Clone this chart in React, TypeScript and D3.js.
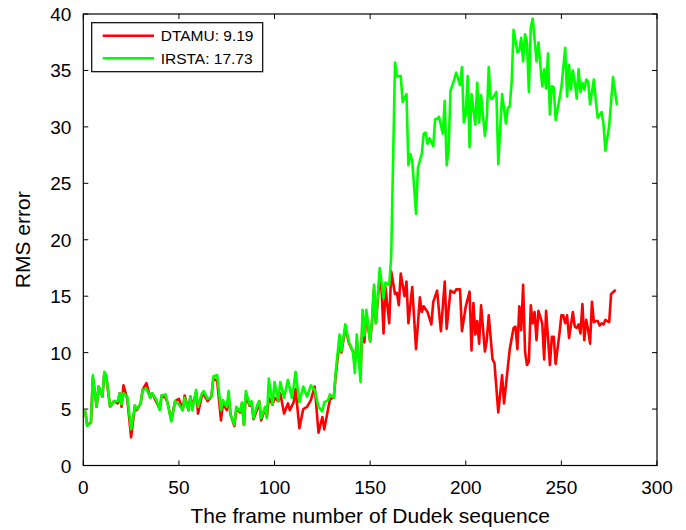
import React from 'react';
import * as d3 from 'd3';

// frame numbers and RMS error
const dtamuFrames = [1, 2, 4, 5, 7, 8, 10, 11, 12, 14, 16, 18, 19, 20, 21, 23, 25, 27, 28, 30, 31, 33, 35, 36, 38, 40, 41, 43, 44, 46, 48, 50, 52, 53, 55, 56, 57, 59, 60, 62, 63, 65, 67, 68, 70, 72, 73, 75, 76, 77, 79, 80, 82, 83, 84, 85, 87, 88, 89, 91, 92, 93, 95, 96, 97, 99, 100, 102, 103, 105, 107, 108, 110, 111, 113, 115, 117, 119, 121, 123, 125, 126, 128, 129, 131, 132, 134, 135, 137, 139, 141, 142, 143, 145, 146, 147, 148, 150, 151, 152, 153, 155, 156, 157, 158, 160, 161, 163, 164, 165, 166, 168, 169, 170, 172, 174, 176, 177, 178, 180, 182, 183, 185, 187, 189, 190, 192, 194, 195, 197, 198, 200, 202, 203, 204, 205, 206, 207, 208, 210, 211, 212, 214, 215, 217, 219, 220, 223, 225, 226, 227, 228, 229, 230, 231, 232, 233, 234, 235, 236, 237, 238, 240, 241, 242, 244, 245, 246, 247, 249, 250, 251, 252, 253, 254, 256, 257, 258, 259, 260, 261, 262, 263, 264, 265, 266, 267, 268, 269, 270, 271, 272, 273, 274, 275, 276, 278];
const dtamuRms = [4.8, 3.6, 3.8, 7.8, 5.2, 7.0, 6.1, 8.2, 7.9, 5.2, 5.7, 5.5, 6.4, 5.2, 7.1, 5.9, 2.5, 5.3, 4.9, 5.5, 6.7, 7.3, 6.0, 6.4, 5.7, 5.0, 6.2, 6.0, 5.6, 4.0, 5.7, 5.9, 4.9, 6.2, 4.9, 6.1, 5.2, 6.5, 4.6, 6.2, 6.3, 5.7, 6.1, 7.7, 7.5, 4.0, 5.5, 4.9, 6.0, 4.5, 3.5, 5.0, 4.7, 5.5, 3.6, 6.2, 5.3, 5.6, 4.1, 5.0, 5.7, 4.0, 5.0, 4.3, 6.0, 5.4, 6.0, 5.7, 6.4, 4.6, 5.5, 4.9, 5.6, 6.8, 3.3, 5.0, 5.2, 5.8, 7.0, 2.9, 4.3, 3.2, 5.0, 5.9, 6.0, 8.0, 11.0, 10.0, 12.2, 10.8, 10.1, 9.0, 11.0, 8.2, 13.0, 10.9, 13.5, 11.0, 12.8, 15.6, 12.6, 16.8, 15.5, 11.7, 15.8, 12.6, 17.2, 15.2, 15.3, 14.2, 17.0, 15.0, 16.3, 12.6, 15.8, 10.3, 14.9, 13.6, 14.1, 13.6, 12.5, 14.5, 15.5, 11.9, 16.3, 12.1, 15.5, 15.3, 15.6, 15.6, 11.9, 14.1, 15.4, 10.2, 14.4, 11.6, 12.8, 10.8, 14.2, 10.1, 11.1, 13.3, 9.4, 9.1, 4.7, 8.0, 5.5, 10.3, 12.2, 12.3, 10.3, 14.1, 12.0, 16.0, 10.1, 8.9, 9.2, 14.2, 12.6, 13.6, 11.1, 13.7, 12.6, 9.4, 13.7, 8.9, 11.4, 11.4, 9.0, 11.7, 13.3, 13.3, 12.6, 13.3, 11.3, 13.6, 12.3, 12.2, 12.5, 11.7, 14.3, 11.1, 12.9, 12.0, 10.8, 14.5, 12.7, 12.8, 12.8, 12.4, 12.6, 12.5, 12.9, 12.8, 12.7, 15.2, 15.5];

const irstaFrames = [1, 2, 4, 5, 7, 8, 10, 11, 12, 14, 16, 18, 19, 20, 21, 23, 25, 27, 28, 30, 31, 33, 35, 36, 38, 40, 41, 43, 44, 46, 48, 50, 52, 53, 55, 56, 57, 59, 60, 62, 63, 65, 67, 68, 70, 72, 73, 75, 76, 77, 79, 80, 82, 83, 84, 85, 87, 88, 89, 91, 92, 93, 95, 96, 97, 99, 100, 102, 103, 105, 107, 109, 110, 111, 113, 115, 117, 119, 121, 123, 125, 126, 128, 129, 131, 132, 134, 135, 137, 139, 141, 142, 143, 145, 146, 147, 148, 150, 151, 152, 153, 155, 156, 157, 158, 160, 161, 163, 164, 166, 167, 169, 170, 171, 172, 174, 175, 177, 178, 179, 180, 181, 183, 184, 185, 186, 188, 189, 190, 191, 192, 194, 195, 197, 198, 199, 200, 201, 202, 203, 205, 206, 207, 208, 210, 211, 212, 213, 214, 216, 217, 219, 221, 222, 223, 224, 225, 227, 228, 229, 230, 231, 232, 233, 234, 235, 237, 238, 239, 240, 241, 242, 243, 244, 245, 246, 247, 249, 250, 252, 253, 254, 255, 256, 257, 258, 259, 260, 261, 262, 263, 264, 265, 267, 268, 269, 271, 272, 273, 275, 277, 279];
const irstaRms = [4.8, 3.5, 3.8, 8.0, 5.2, 7.0, 6.1, 8.3, 8.0, 5.2, 5.7, 5.7, 6.4, 5.4, 6.4, 6.1, 3.2, 5.3, 5.0, 5.5, 6.7, 6.8, 6.0, 6.4, 5.9, 4.9, 6.2, 6.3, 5.6, 3.9, 5.7, 5.4, 4.9, 6.0, 4.9, 6.1, 4.9, 6.7, 5.2, 6.4, 6.6, 5.9, 6.1, 7.9, 8.0, 4.9, 5.8, 5.2, 6.6, 4.5, 3.6, 5.2, 4.8, 5.6, 3.6, 6.6, 5.4, 5.7, 4.2, 5.4, 5.7, 4.2, 5.2, 4.2, 7.7, 5.4, 7.4, 5.7, 7.4, 6.0, 7.6, 6.0, 7.0, 8.3, 5.6, 7.0, 6.1, 7.1, 6.7, 5.2, 4.8, 5.6, 5.8, 6.3, 6.0, 8.3, 11.6, 10.1, 12.5, 10.9, 10.1, 8.2, 11.6, 7.4, 13.8, 11.5, 13.8, 11.0, 13.0, 16.0, 12.6, 17.5, 16.2, 14.8, 16.2, 16.0, 18.5, 35.7, 34.5, 34.5, 32.2, 32.9, 26.6, 27.6, 27.0, 22.3, 26.4, 27.6, 29.4, 29.5, 28.5, 29.0, 28.3, 30.7, 30.7, 30.9, 29.4, 32.3, 26.6, 27.9, 33.2, 34.2, 34.8, 33.7, 35.3, 30.4, 31.1, 34.5, 28.2, 32.9, 30.2, 33.9, 30.4, 32.8, 29.2, 30.8, 35.3, 32.5, 32.5, 33.1, 26.7, 32.9, 30.3, 31.7, 31.8, 34.0, 38.6, 36.6, 36.8, 37.9, 35.8, 38.2, 37.5, 33.1, 38.8, 39.6, 35.8, 37.5, 35.5, 33.6, 35.1, 33.4, 36.5, 31.1, 33.6, 33.5, 30.6, 32.5, 33.5, 37.0, 32.7, 35.5, 33.3, 35.0, 34.0, 32.5, 35.1, 33.1, 33.9, 33.3, 34.2, 34.0, 32.0, 34.2, 32.3, 30.8, 31.3, 30.3, 27.9, 30.1, 34.4, 32.0];

const seriesNames = ['DTAMU: 9.19', 'IRSTA: 17.73'];
const seriesColors = ['#ff0000', '#00ff00'];
const xTicks = [0, 50, 100, 150, 200, 250, 300];
const yTicks = [0, 5, 10, 15, 20, 25, 30, 35, 40];

const width = 686;
const height = 530;
const margin = { top: 14, right: 29, bottom: 64.5, left: 83.3 };
const font = '"Liberation Sans", Arial, Helvetica, sans-serif';

const App = () => {
    const x = d3.scaleLinear().domain([0, 300]).range([margin.left, width - margin.right]);
    const y = d3.scaleLinear().domain([0, 40]).range([height - margin.bottom, margin.top]);

    const line = d3.line<[number, number]>()
        .x(d => x(d[0]))
        .y(d => y(d[1]));

    const series = [
        dtamuFrames.map((f, i) => [f, dtamuRms[i]] as [number, number]),
        irstaFrames.map((f, i) => [f, irstaRms[i]] as [number, number]),
    ];

    const x0 = x(0), x1 = x(300), y0 = y(0), y1 = y(40);
    const tick = 5;

    return (
        <svg width={width} height={height}
            style={{ position: 'absolute', left: 0, top: 0, background: '#fff' }}
            fontFamily={font}>
            {/* data lines, green drawn on top */}
            {series.map((pts, i) => (
                <path key={i} d={line(pts) || ''} fill="none" stroke={seriesColors[i]}
                    strokeWidth={2.6} strokeLinejoin="round" strokeLinecap="round" />
            ))}

            {/* box and ticks */}
            <rect x={x0} y={y1} width={x1 - x0} height={y0 - y1} fill="none" stroke="#000" strokeWidth={1.2} />
            {xTicks.map(t => (
                <g key={'x' + t}>
                    <line x1={x(t)} x2={x(t)} y1={y0} y2={y0 - tick} stroke="#000" />
                    <line x1={x(t)} x2={x(t)} y1={y1} y2={y1 + tick} stroke="#000" />
                    <text x={x(t)} y={494} fontSize={19} textAnchor="middle">{t}</text>
                </g>
            ))}
            {yTicks.map(t => (
                <g key={'y' + t}>
                    <line x1={x0} x2={x0 + tick} y1={y(t)} y2={y(t)} stroke="#000" />
                    <line x1={x1} x2={x1 - tick} y1={y(t)} y2={y(t)} stroke="#000" />
                    <text x={x0 - 12} y={y(t) + 7} fontSize={19} textAnchor="end">{t}</text>
                </g>
            ))}

            {/* axis titles */}
            <text x={(x0 + x1) / 2} y={523} fontSize={21} textAnchor="middle">The frame number of Dudek sequence</text>
            <text transform={`translate(30,${(y0 + y1) / 2}) rotate(-90)`} fontSize={21} textAnchor="middle">RMS error</text>

            {/* legend */}
            <rect x={91.7} y={22.7} width={171} height={49} fill="#fff" stroke="#000" strokeWidth={1.2} />
            {seriesNames.map((name, i) => (
                <g key={name}>
                    <line x1={102.7} x2={154} y1={35.7 + i * 22.6} y2={35.7 + i * 22.6}
                        stroke={seriesColors[i]} strokeWidth={2.6} />
                    <text x={160.7} y={35.7 + i * 22.6 + 5.5} fontSize={15.5}>{name}</text>
                </g>
            ))}
        </svg>
    );
};

export default App;
